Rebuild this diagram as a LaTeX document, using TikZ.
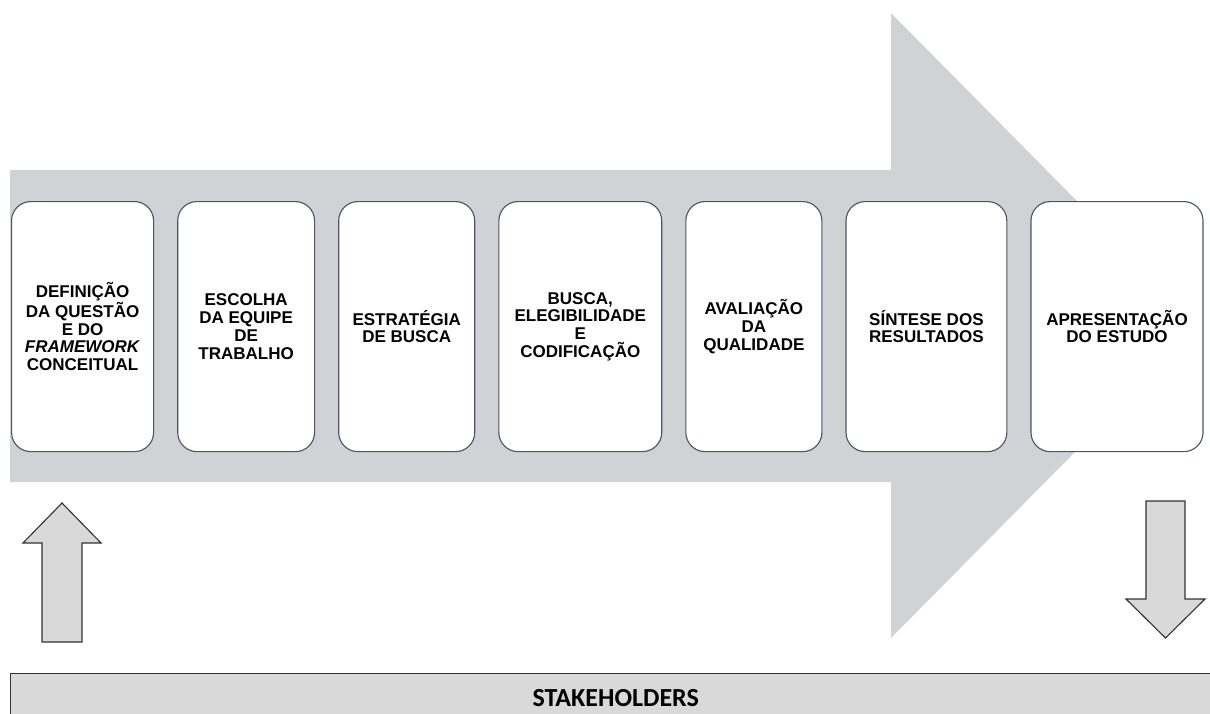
\documentclass[tikz,border=0pt]{standalone}
\usepackage{fontspec}
\setmainfont{Liberation Sans}
\newfontfamily\barfont{Carlito}
\usetikzlibrary{positioning}
\definecolor{flowGray}{HTML}{D0D2D6}
\definecolor{boxEdge}{HTML}{4B5563}
\definecolor{lightFill}{HTML}{D9D9D9}
\definecolor{darkEdge}{HTML}{333333}
\tikzset{
  stageBox/.style={rectangle, rounded corners=0.48cm, draw=boxEdge, fill=white,
                   line width=0.8pt, align=center, minimum height=6.25cm,
                   font=\bfseries\fontsize{12.1}{12.6}\selectfont, inner sep=2pt},
  blockArrow/.style={draw=darkEdge, fill=lightFill, line width=0.8pt},
  barBox/.style={rectangle, draw=darkEdge, fill=lightFill, line width=0.8pt,
                 font=\barfont\bfseries\fontsize{18.5}{20}\selectfont},
}

\begin{document}
\begin{tikzpicture}[x=0.025cm, y=-0.025cm, node distance=0.575cm]
    \useasboundingbox (0,0) rectangle (1210,713);
    \clip (0,0) rectangle (1210,713);
    % big process arrow
    \fill[flowGray] (10,170) -- (891,170) -- (891,13) -- (1200,325.5)
      -- (891,638) -- (891,482) -- (10,482) -- cycle;
    % stages
    \node[stageBox, minimum width=3.55cm, anchor=north west] (def) at (11,201)
      {DEFINIÇÃO\\DA QUESTÃO\\E DO\\\textit{FRAMEWORK}\\CONCEITUAL};
    \node[stageBox, minimum width=3.42cm, right=of def] (equipe)
      {ESCOLHA\\DA EQUIPE\\DE\\TRABALHO};
    \node[stageBox, minimum width=3.4cm, right=of equipe] (estrat)
      {ESTRATÉGIA\\DE BUSCA};
    \node[stageBox, minimum width=4.07cm, right=of estrat] (busca)
      {BUSCA,\\ELEGIBILIDADE\\E\\CODIFICAÇÃO};
    \node[stageBox, minimum width=3.4cm, right=of busca] (aval)
      {AVALIAÇÃO\\DA\\QUALIDADE};
    \node[stageBox, minimum width=4.02cm, right=of aval] (sintese)
      {SÍNTESE DOS\\RESULTADOS};
    \node[stageBox, minimum width=4.3cm, right=of sintese] (apres)
      {APRESENTAÇÃO\\DO ESTUDO};
    % up and down arrows
    \draw[blockArrow] (42,642) -- (42,543) -- (23,543) -- (62,503) -- (101,543)
      -- (82,543) -- (82,642) -- cycle;
    \draw[blockArrow] (1146,501) -- (1185,501) -- (1185,599) -- (1205,599)
      -- (1165.5,638) -- (1126,599) -- (1146,599) -- cycle;
    % stakeholders bar
    \node[barBox, minimum width=30.25cm, minimum height=1.2cm, anchor=north west]
      (stake) at (10,673) {STAKEHOLDERS};
\end{tikzpicture}
\end{document}
